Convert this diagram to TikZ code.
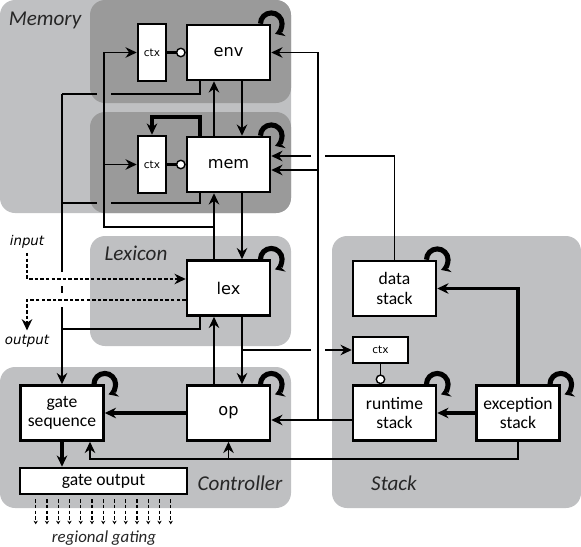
\documentclass[tikz,border=0pt]{standalone}
\usepackage{fontspec}
\setmainfont{Carlito}
\newfontfamily\dejavu{DejaVu Sans}
\usetikzlibrary{arrows.meta}

\definecolor{regionlight}{RGB}{191,192,194}
\definecolor{regiondark}{RGB}{154,154,154}

\tikzset{
  unit/.style={draw, line width=1.8pt, fill=white, minimum width=2.075cm, minimum height=1.375cm,
    inner sep=1pt, align=center, font=\fontsize{12.5}{14}\selectfont},
  core/.style={unit, font=\dejavu\fontsize{11.5}{13}\selectfont},
  ctxbox/.style={draw, line width=1.8pt, fill=white, minimum width=0.7cm, minimum height=1.425cm,
    inner sep=0pt, font=\dejavu\fontsize{7.5}{9}\selectfont},
  region/.style={font=\itshape\fontsize{15}{18}\selectfont, text=black!85},
  iolabel/.style={font=\dejavu\itshape\fontsize{9.5}{11}\selectfont, inner sep=3pt},
  wire/.style={line width=1pt},
  heavy/.style={line width=2.2pt},
  dashwire/.style={line width=1pt, dash pattern=on 2.5pt off 1.5pt},
  selfloop/.style={line width=3.6pt, -{Stealth[length=6.5pt,width=8pt]}},
  probe/.style={-{Circle[open,fill=white,length=7pt,width=7pt,line width=1pt]}},
  >={Stealth[length=8pt,width=7.5pt]}
}

\begin{document}
\begin{tikzpicture}[x=0.025cm, y=-0.025cm]
\useasboundingbox (0,0) rectangle (581,547);

% Régions
\fill[regionlight, rounded corners=0.375cm] (0,0) rectangle (291,213);
\fill[regiondark, rounded corners=0.375cm] (90,0) rectangle (291,103);
\fill[regiondark, rounded corners=0.375cm] (90,112) rectangle (291,213);
\fill[regionlight, rounded corners=0.375cm] (90,236) rectangle (291,346);
\fill[regionlight, rounded corners=0.375cm] (0,367) rectangle (291,508);
\fill[regionlight, rounded corners=0.375cm] (332,236) rectangle (581,508);

\node[region] (memlabel) at (45,20) {Memory};
\node[region] (lexlabel) at (136,253) {Lexicon};
\node[region] (ctrllabel) at (240,483) {Controller};
\node[region] (stacklabel) at (394,483) {Stack};

% Boîtes
\node[core] (env) at (228.5,52.5) {env};
\node[ctxbox] (envctx) at (152,52.5) {ctx};
\node[core] (mem) at (228.5,164.5) {mem};
\node[ctxbox] (memctx) at (152,164.5) {ctx};
\node[core] (lex) at (228.5,288) {lex};
\node[unit] (gateseq) at (62,413) {gate\\sequence};
\node[core] (op) at (228.5,413) {op};
\node[unit, minimum width=4.175cm, minimum height=0.65cm] (gateout) at (103.5,481) {gate output};
\node[unit] (datastack) at (394.5,288.5) {data\\stack};
\node[ctxbox, minimum width=1.375cm, minimum height=0.65cm] (stackctx) at (380.5,350) {ctx};
\node[unit] (runtime) at (394.5,413) {runtime\\stack};
\node[unit] (exception) at (518,413) {exception\\stack};

\node[iolabel] (input) at (27,242) {input};
\node[iolabel] (output) at (27,341) {output};
\node[region, font=\itshape\fontsize{12}{14}\selectfont] (gating) at (104,538) {regional gating};

% Colonnes et rangées des fils
\coordinate (colA) at (242,0);
\coordinate (colB) at (214,0);
\coordinate (colC) at (200,0);
\coordinate (colD) at (104,0);
\coordinate (colE) at (62,0);
\coordinate (colF) at (318,0);
\coordinate (colI) at (90,0);
\coordinate (rowenv) at (0,94);
\coordinate (rowmem) at (0,203);
\coordinate (rowlex) at (0,329);
\coordinate (rowctx) at (0,227);
\coordinate (rowloop) at (0,117);
\coordinate (rowds) at (0,156);
\coordinate (rowmemrt) at (0,170);
\coordinate (rowin) at (0,279);
\coordinate (rowout) at (0,300);
\coordinate (rowrt) at (0,420);
\coordinate (rowbot) at (0,459);

% Bus descendant
\draw[wire,->] (env.south -| colA) -- (mem.north -| colA);
\draw[wire,->] (mem.south -| colA) -- (lex.north -| colA);
\draw[wire,->] (lex.south -| colA) -- (op.north -| colA);
\draw[wire] (stackctx.west -| colA) -- ([xshift=-0.175cm]stackctx.west -| colF);
\draw[wire,->] ([xshift=0.175cm]stackctx.west -| colF) -- (stackctx.west);

% Bus montant
\draw[wire,->] (op.north -| colB) -- (lex.south -| colB);
\draw[wire,->] (lex.north -| colB) -- (mem.south -| colB);
\draw[wire,->] (mem.north -| colB) -- (env.south -| colB);
\draw[wire,->] (rowctx -| colB) -| (envctx.west -| colD) -- (envctx.west);
\draw[wire,->] (memctx.west -| colD) -- (memctx.west);

% Retours vers gate sequence
\draw[wire] (env.south -| colC) |- ([xshift=0.175cm]rowenv -| colD);
\draw[wire] ([xshift=-0.175cm]rowenv -| colD) -- (rowenv -| colE);
\draw[wire] (mem.south -| colC) |- ([xshift=0.175cm]rowmem -| colD);
\draw[wire] ([xshift=-0.175cm]rowmem -| colD) -- (rowmem -| colE);
\draw[wire] (lex.south -| colC) |- (rowlex -| colE);
\draw[wire] (rowenv -| colE) -- ([yshift=0.175cm]rowin -| colE);
\draw[wire] ([yshift=-0.175cm]rowin -| colE) -- ([yshift=0.175cm]rowout -| colE);
\draw[wire,->] ([yshift=-0.175cm]rowout -| colE) -- (gateseq.north);

% Piles
\draw[wire,->] (runtime.west |- rowrt) -- (op.east |- rowrt);
\draw[wire,->] (rowrt -| colF) |- (env.east);
\draw[wire,->] (rowmemrt -| colF) -- (rowmemrt -| mem.east);
\draw[wire] (datastack.north) |- ([xshift=0.175cm]rowds -| colF);
\draw[wire,->] ([xshift=-0.175cm]rowds -| colF) -- (rowds -| mem.east);
\draw[wire,->] (exception.south) |- (rowbot -| colI) -- (gateseq.south -| colI);
\draw[wire,->] (rowbot -| op.south) -- (op.south);

% Liaisons épaisses
\draw[heavy,->] (gateseq.south) -- (gateseq.south |- gateout.north);
\draw[heavy,->] (op.west) -- (gateseq.east);
\draw[heavy,->] (exception.west) -- (runtime.east);
\draw[heavy,->] (exception.north) |- (datastack.east);
\draw[heavy,->] (mem.north -| colC) |- (rowloop -| memctx.north) -- (memctx.north);
\draw[heavy,probe] (envctx.east) -- (env.west);
\draw[heavy,probe] (memctx.east) -- (mem.west);
\draw[wire,probe] (stackctx.south) -- (stackctx.south |- runtime.north);

% Entrée et sortie
\draw[dashwire,->] (input.south) |- (rowin -| lex.west);
\draw[dashwire,->] (rowout -| lex.west) -| (output.north);
\foreach \i in {0,...,12}
  \draw[dashwire, line width=0.8pt, -{Stealth[length=2.5pt,width=3pt]}]
    ([xshift=\i*0.28125cm+0.425cm, yshift=-0.1cm]gateout.south west) -- ++(0,25);

% Boucles
\foreach \b in {env,mem,lex,gateseq,op,datastack,runtime,exception}
  \draw[selfloop] ([xshift=-0.27cm]\b.north east) arc[start angle=180, end angle=-70, radius=0.27cm];

\end{tikzpicture}
\end{document}
